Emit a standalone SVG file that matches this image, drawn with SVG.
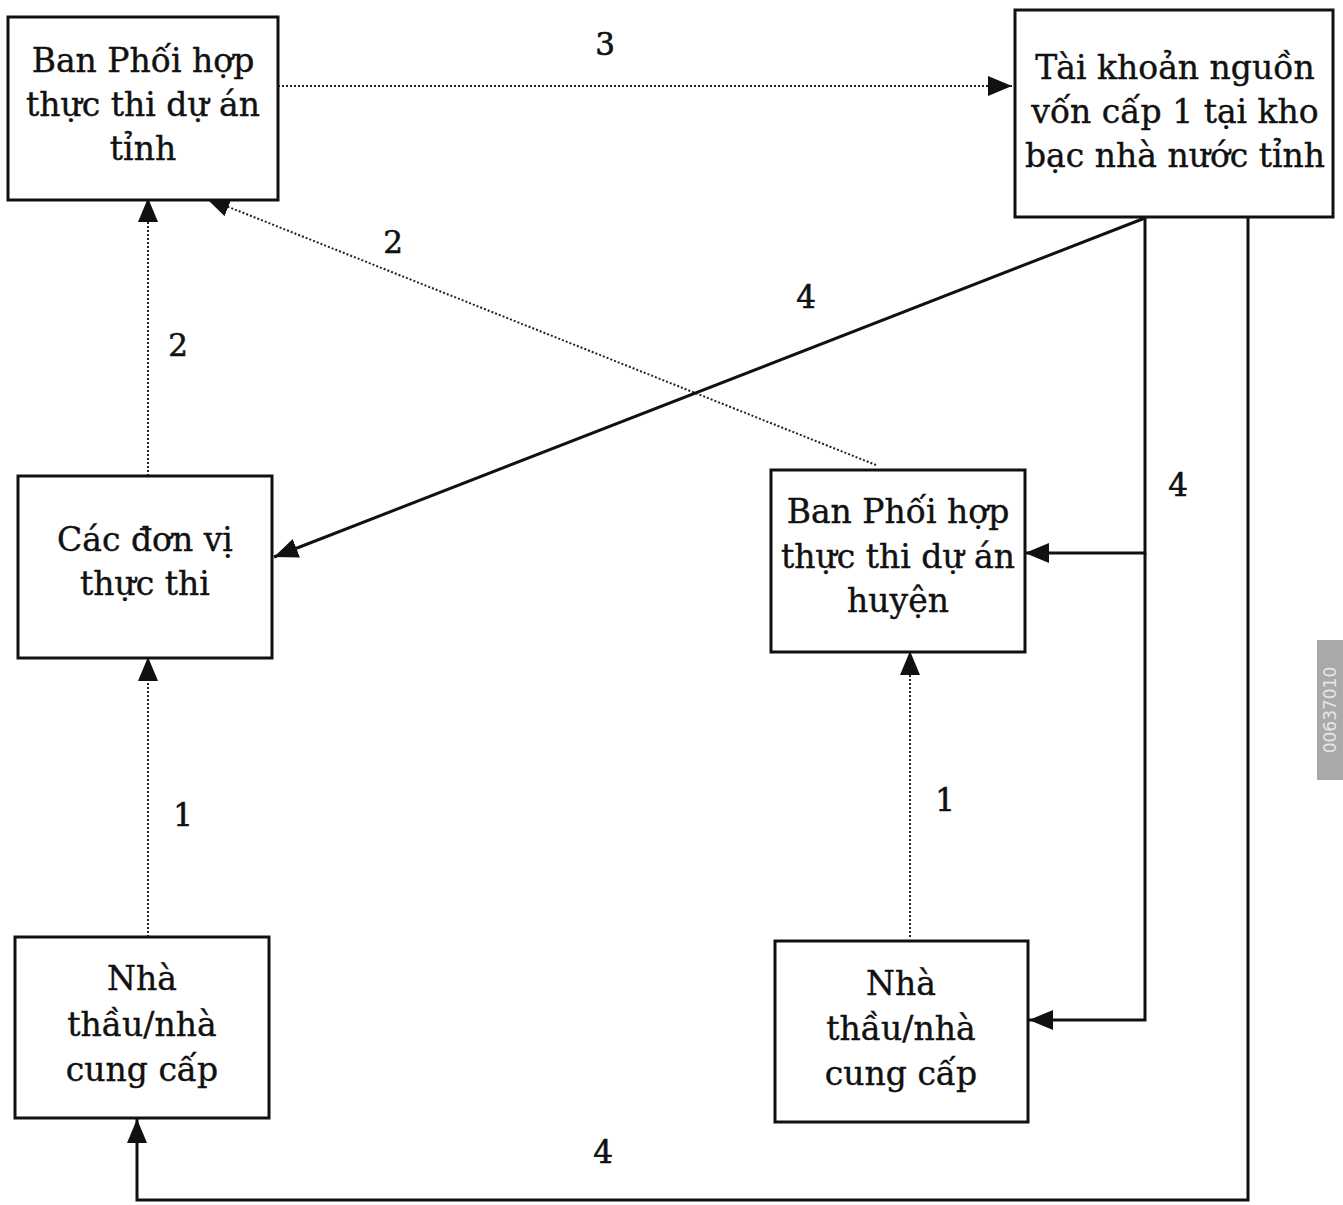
<svg xmlns="http://www.w3.org/2000/svg" width="1343" height="1205" viewBox="0 0 1343 1205">
<style>
.box{fill:#fff;stroke:#111;stroke-width:3}
.t{font-family:"DejaVu Serif","Liberation Serif",serif;font-size:33px;fill:#111;stroke:#111;stroke-width:0.4;text-anchor:middle}
.n{font-family:"DejaVu Serif","Liberation Serif",serif;font-size:31px;fill:#111;stroke:#111;stroke-width:0.6;text-anchor:middle}
.solid{fill:none;stroke:#111;stroke-width:3}
.dot{fill:none;stroke:#222;stroke-width:2;stroke-dasharray:2 2}
</style>
<defs>
<marker id="ah" viewBox="0 0 24 20" refX="24" refY="10" markerWidth="24" markerHeight="20" markerUnits="userSpaceOnUse" orient="auto">
<path d="M0,0 L24,10 L0,20 Z" fill="#111"/>
</marker>
</defs>
<rect width="1343" height="1205" fill="#fff"/>
<g id="connectors">
<path class="dot" d="M278,86 L1012,86" marker-end="url(#ah)"/>
<path class="dot" d="M148,476 L148,198" marker-end="url(#ah)"/>
<path class="dot" d="M876,465 L206,198" marker-end="url(#ah)"/>
<path class="dot" d="M148,937 L148,657" marker-end="url(#ah)"/>
<path class="dot" d="M910,937 L910,651" marker-end="url(#ah)"/>
<path class="solid" d="M1145,218 L274,557" marker-end="url(#ah)"/>
<path class="solid" d="M1145,218 L1145,553 L1025,553" marker-end="url(#ah)"/>
<path class="solid" d="M1145,553 L1145,1020 L1029,1020" marker-end="url(#ah)"/>
<path class="solid" d="M1248,218 L1248,1200 L137,1200 L137,1119" marker-end="url(#ah)"/>
<text class="n" x="605" y="55">3</text>
<text class="n" x="393" y="253">2</text>
<text class="n" x="178" y="356">2</text>
<text class="n" x="806" y="308">4</text>
<text class="n" x="1178" y="496">4</text>
<text class="n" x="183" y="826">1</text>
<text class="n" x="945" y="811">1</text>
<text class="n" x="603" y="1163">4</text>
</g>
<g id="node-ban-tinh">
<rect class="box" x="8" y="17" width="270" height="183"/>
<text class="t" x="143" y="72">Ban Phối hợp</text>
<text class="t" x="143" y="116">thực thi dự án</text>
<text class="t" x="143" y="160">tỉnh</text>
</g>
<g id="node-tai-khoan">
<rect class="box" x="1015" y="10" width="318" height="207"/>
<text class="t" x="1175" y="79">Tài khoản nguồn</text>
<text class="t" x="1175" y="123">vốn cấp 1 tại kho</text>
<text class="t" x="1175" y="167">bạc nhà nước tỉnh</text>
</g>
<g id="node-don-vi">
<rect class="box" x="18" y="476" width="254" height="182"/>
<text class="t" x="145" y="551">Các đơn vị</text>
<text class="t" x="145" y="595">thực thi</text>
</g>
<g id="node-ban-huyen">
<rect class="box" x="771" y="470" width="254" height="182"/>
<text class="t" x="898" y="523">Ban Phối hợp</text>
<text class="t" x="898" y="568">thực thi dự án</text>
<text class="t" x="898" y="612">huyện</text>
</g>
<g id="node-nha-thau-trai">
<rect class="box" x="15" y="937" width="254" height="181"/>
<text class="t" x="142" y="990">Nhà</text>
<text class="t" x="142" y="1036">thầu/nhà</text>
<text class="t" x="142" y="1081">cung cấp</text>
</g>
<g id="node-nha-thau-phai">
<rect class="box" x="775" y="941" width="253" height="181"/>
<text class="t" x="901" y="995">Nhà</text>
<text class="t" x="901" y="1040">thầu/nhà</text>
<text class="t" x="901" y="1085">cung cấp</text>
</g>
<g id="watermark">
<rect x="1317" y="640" width="26" height="140" fill="#a9a9a9"/>
<text x="0" y="0" transform="translate(1336,710) rotate(-90)" font-family="'DejaVu Sans',sans-serif" font-size="17" fill="#e6e6e6" text-anchor="middle">00637010</text>
</g>
</svg>
